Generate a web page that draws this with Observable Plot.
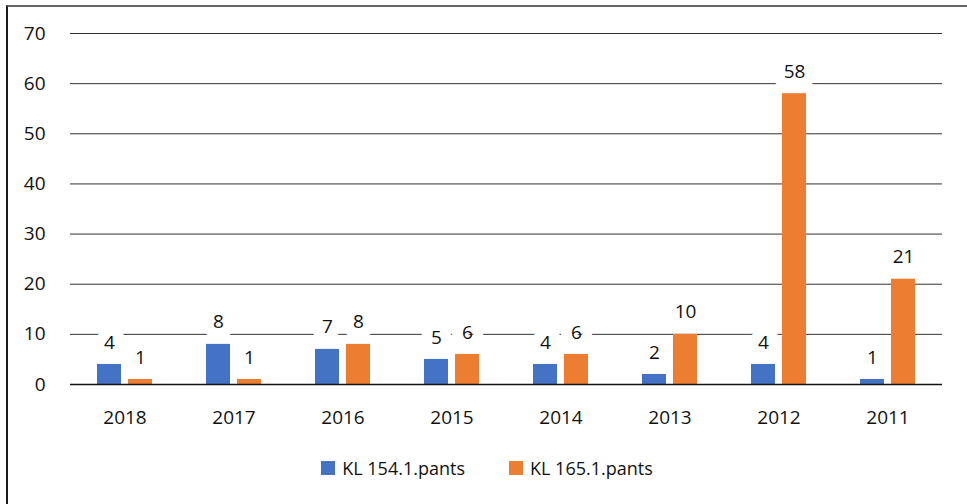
<!DOCTYPE html>
<html><head><meta charset="utf-8">
<script src="https://cdn.jsdelivr.net/npm/d3@7"></script>
<script src="https://cdn.jsdelivr.net/npm/@observablehq/plot@0.6"></script>
<style>
html,body{margin:0;padding:0;background:#fff;overflow:hidden;width:967px;height:504px;position:relative}
#frame{position:absolute;left:6px;top:5px;width:2000px;height:2000px;border-left:2px solid #1a1a1a;border-top:2px solid #666;box-sizing:border-box;pointer-events:none}
#chart{position:absolute;left:0;top:0;width:967px}
.legend{display:flex;justify-content:center;align-items:center;height:46px;padding-left:7px;font-family:'Open Sans',sans-serif;font-size:18px;color:#111}
.item{display:flex;align-items:center;margin:0 22px}
.sw{width:14px;height:14px;margin-right:7px}
</style></head>
<body>
<div id="chart"></div>
<div id="frame"></div>
<script>
const years = ["2018","2017","2016","2015","2014","2013","2012","2011"];
const seriesNames = ["KL 154.1.pants","KL 165.1.pants"];
const kl154 = [4,8,7,5,4,2,4,1];
const kl165 = [1,1,8,6,6,10,58,21];
const colors = ["#4472C4","#ED7D31"];
const yTicks = [0,10,20,30,40,50,60,70];

const data = years.flatMap((y,i)=>[
  {year:y, series:seriesNames[0], value:kl154[i]},
  {year:y, series:seriesNames[1], value:kl165[i]}
]);

const chart = Plot.plot({
  width: 967, height: 445,
  marginLeft: 68, marginRight: 24, marginTop: 33, marginBottom: 61,
  style: {fontFamily: "'Open Sans', sans-serif", fontSize: "19px", color: "#111", background: "transparent"},
  fx: {domain: years, padding: 0, label: null, axis: "bottom", tickSize: 0, tickPadding: 26},
  x: {domain: seriesNames, paddingInner: 0.22, paddingOuter: 0.82, axis: null},
  y: {domain: [0,70], ticks: yTicks, tickSize: 0, tickPadding: 25, label: null},
  color: {domain: seriesNames, range: colors},
  marks: [
    Plot.ruleY(yTicks.filter(d => d > 0), {stroke: "#333", strokeWidth: 1}),
    Plot.barY(data, {fx: "year", x: "series", y: "value", fill: "series"}),
    Plot.ruleY([0], {stroke: "#111", strokeWidth: 1.6}),
    Plot.text(data, {fx: "year", x: "series", y: "value", text: d => String(d.value), dy: -22,
      stroke: "white", strokeWidth: 22, strokeLinejoin: "round", paintOrder: "stroke", fill: "#111", fontSize: 19})
  ]
});
const host = document.getElementById("chart");
host.appendChild(chart);
const legend = document.createElement("div");
legend.className = "legend";
seriesNames.forEach((name, i) => {
  const it = document.createElement("div");
  it.className = "item";
  const sw = document.createElement("div");
  sw.className = "sw";
  sw.style.background = colors[i];
  const lb = document.createElement("span");
  lb.textContent = name;
  it.appendChild(sw); it.appendChild(lb);
  legend.appendChild(it);
});
host.appendChild(legend);
</script>
</body></html>
